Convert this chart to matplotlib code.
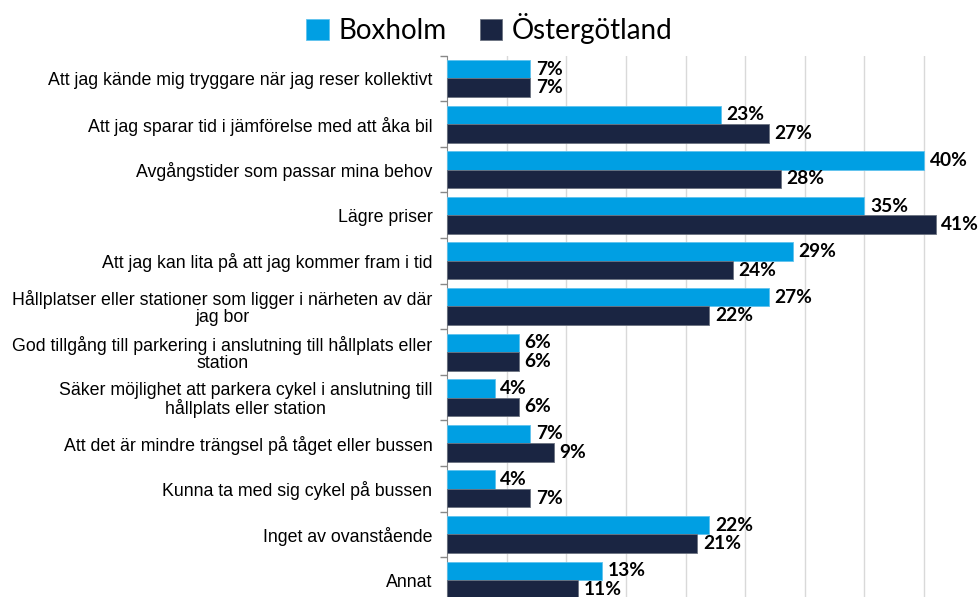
import matplotlib.pyplot as plt
import numpy as np

categories = [
    "Att jag kände mig tryggare när jag reser kollektivt",
    "Att jag sparar tid i jämförelse med att åka bil",
    "Avgångstider som passar mina behov",
    "Lägre priser",
    "Att jag kan lita på att jag kommer fram i tid",
    "Hållplatser eller stationer som ligger i närheten av där\njag bor",
    "God tillgång till parkering i anslutning till hållplats eller\nstation",
    "Säker möjlighet att parkera cykel i anslutning till\nhållplats eller station",
    "Att det är mindre trängsel på tåget eller bussen",
    "Kunna ta med sig cykel på bussen",
    "Inget av ovanstående",
    "Annat",
]
boxholm = [7, 23, 40, 35, 29, 27, 6, 4, 7, 4, 22, 13]
ostergotland = [7, 27, 28, 41, 24, 22, 6, 6, 9, 7, 21, 11]
series_names = ["Boxholm", "Östergötland"]

c_box = "#009FE3"
c_ost = "#1A2542"

W, H = 979, 597
fig = plt.figure(figsize=(W / 100, H / 100), dpi=100)
# axes: left spine at x=447 px, category band from y=55.7 to y=602.8 px
ax = fig.add_axes([447 / W, 1 - 602.8 / H, 1 - 447 / W, (602.8 - 55.7) / H])

y = np.arange(len(categories))
h = 0.405
b1 = ax.barh(y - h / 2, boxholm, height=h, color=c_box, edgecolor="#5fc3ee", linewidth=0.6,
             label=series_names[0], zorder=3)
b2 = ax.barh(y + h / 2, ostergotland, height=h, color=c_ost, edgecolor="#6b7280", linewidth=0.6,
             label=series_names[1], zorder=3)

lab_font = dict(family=["Lato", "DejaVu Sans"], fontsize=13.8, fontweight="bold", color="black")
for rects, vals in ((b1, boxholm), (b2, ostergotland)):
    for r, v in zip(rects, vals):
        ax.text(r.get_width() + 0.45, r.get_y() + r.get_height() / 2, f"{v}%",
                va="center", ha="left", **lab_font)

ax.set_xlim(0, 44.6)
ax.set_ylim(len(categories) - 0.5, -0.5)
ax.set_xticks(np.arange(5, 45, 5))
ax.xaxis.grid(True, color="#D9D9D9", linewidth=1, zorder=0)
ax.tick_params(axis="x", length=0, labelbottom=False)

ax.set_yticks(y)
ax.set_yticklabels(categories, family=["Liberation Sans", "DejaVu Sans"], fontsize=12.8,
                   multialignment="center", linespacing=1.0)
ax.set_yticks(np.arange(-0.5, len(categories), 1), minor=True)
ax.tick_params(axis="y", which="major", length=0, pad=10.5)
ax.tick_params(axis="y", which="minor", length=5, color="#888888", width=1)

for s in ("top", "right", "bottom"):
    ax.spines[s].set_visible(False)
ax.spines["left"].set_color("#888888")

fig.legend(handles=[b1, b2], loc="upper center", bbox_to_anchor=(0.5, 1.02), ncol=2,
           frameon=False, prop=dict(family=["Lato", "DejaVu Sans"], size=20),
           handlelength=0.8, handleheight=0.8, handletextpad=0.35, columnspacing=1.2)

fig.savefig("out.png", dpi=100)
